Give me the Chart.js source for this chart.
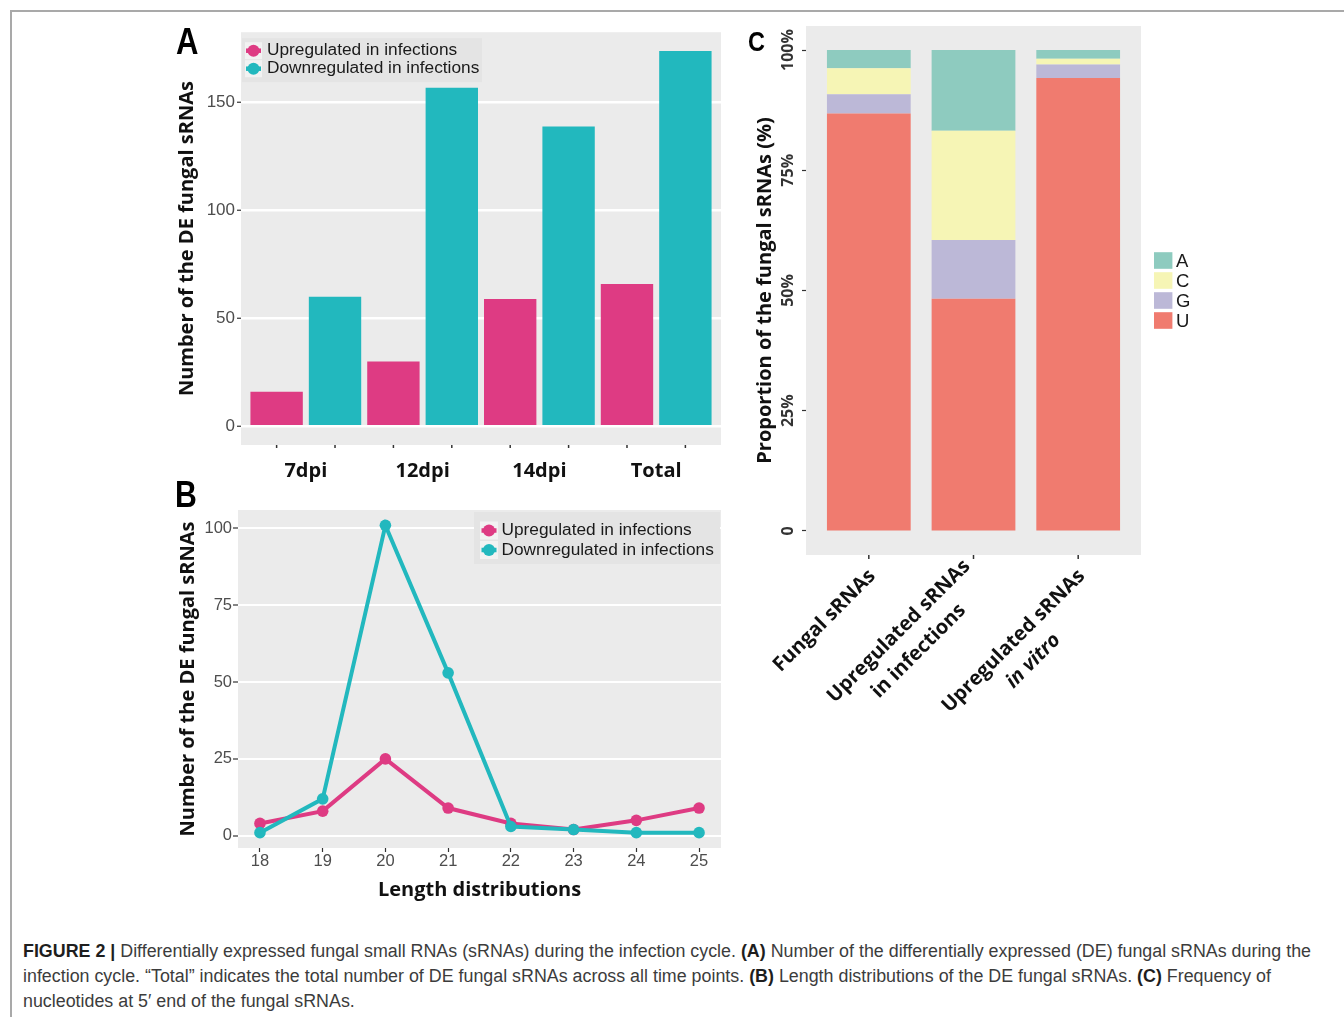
<!DOCTYPE html>
<html>
<head>
<meta charset="utf-8">
<title>Figure 2</title>
<script src="https://cdn.jsdelivr.net/npm/chart.js@4.4.1/dist/chart.umd.min.js"></script>
<style>
  body { margin: 0; background: #fff; }
  #page { position: relative; width: 1344px; height: 1017px; overflow: hidden; background: #fff; }
  .frame { position: absolute; background: #a9a9a9; }
  .panel { position: absolute; }
  .letter { position: absolute; font-family: "Liberation Sans", Arial, sans-serif; font-weight: bold; line-height: 1; color: #000; transform: scaleX(0.84); transform-origin: left top; }
  #caption { position: absolute; left: 23px; top: 939px; color: #3c3c3c; font-family: "Liberation Sans", sans-serif; font-size: 18px; line-height: 25px; white-space: nowrap; transform-origin: left top; }
  #caption b { color: #1e1e1e; }
</style>
</head>
<body>
<div id="page">
  <div class="frame" style="left:10px;top:10px;width:1334px;height:1.5px"></div>
  <div class="frame" style="left:10px;top:10px;width:1.5px;height:1007px"></div>

  <canvas id="chartA" class="panel" style="left:160px;top:20px" width="570" height="480"></canvas>
  <canvas id="chartB" class="panel" style="left:160px;top:490px" width="570" height="420"></canvas>
  <canvas id="chartC" class="panel" style="left:740px;top:10px" width="470" height="760"></canvas>

  <div class="letter" style="left:176px;top:23px;font-size:37px">A</div>
  <div class="letter" style="left:175px;top:477px;font-size:36px">B</div>
  <div class="letter" style="left:748px;top:28px;font-size:28px">C</div>

  <div id="caption">
    <span class="ln"><b>FIGURE 2 |</b> Differentially expressed fungal small RNAs (sRNAs) during the infection cycle. <b>(A)</b> Number of the differentially expressed (DE) fungal sRNAs during the</span><br>
    <span class="ln">infection cycle. “Total” indicates the total number of DE fungal sRNAs across all time points. <b>(B)</b> Length distributions of the DE fungal sRNAs. <b>(C)</b> Frequency of</span><br>
    <span class="ln">nucleotides at 5′ end of the fungal sRNAs.</span>
  </div>
</div>

<script>
// panel A: DE sRNAs per time point
const timePoints = ['7dpi', '12dpi', '14dpi', 'Total'];
const upCounts = [16, 30, 59, 66];
const downCounts = [60, 157, 139, 174];
const countTicks = [0, 50, 100, 150];

// panel B: length distributions
const lengths = [18, 19, 20, 21, 22, 23, 24, 25];
const upByLength = [4, 8, 25, 9, 4, 2, 5, 9];
const downByLength = [1, 12, 101, 53, 3, 2, 1, 1];
const lengthTicks = [0, 25, 50, 75, 100];

// panel C: 5' nucleotide shares (%), stacked bottom to top
const sampleGroups = ['Fungal sRNAs', ['Upregulated sRNAs', 'in infections'], ['Upregulated sRNAs', 'in vitro']];
const nucleotides = ['U', 'G', 'C', 'A'];
const pctU = [86.8, 48.3, 94.2];
const pctG = [4.0, 12.2, 2.8];
const pctC = [5.4, 22.7, 1.2];
const pctA = [3.8, 16.8, 1.8];
const pctTicks = [0, 25, 50, 75, 100];

const PINK = '#DE3B83';
const TEAL = '#22B8BE';
const NUC_COLORS = { U: '#F07B6F', G: '#BCB8D7', C: '#F6F5B5', A: '#8ECBBF' };
const PANEL = '#EBEBEB';
const SANS = '"Liberation Sans", Arial, sans-serif';
const BOLD = '"Open Sans", sans-serif';

Chart.defaults.font.family = SANS;

const panelBg = {
  id: 'panelBg',
  beforeDraw(chart, args, o) {
    const { ctx, chartArea: a } = chart;
    ctx.save();
    ctx.fillStyle = o.color;
    ctx.fillRect(a.left, a.top, a.right - a.left, a.bottom - a.top);
    ctx.restore();
  }
};

// small tick marks under every bar
const barTicks = {
  id: 'barTicks',
  afterDraw(chart, args, o) {
    const { ctx, chartArea: a } = chart;
    ctx.save();
    ctx.strokeStyle = o.color;
    ctx.lineWidth = o.width;
    chart.data.datasets.forEach((ds, i) => {
      if (o.firstOnly && i > 0) return;
      chart.getDatasetMeta(i).data.forEach(bar => {
        ctx.beginPath();
        ctx.moveTo(bar.x, a.bottom);
        ctx.lineTo(bar.x, a.bottom + o.length);
        ctx.stroke();
      });
    });
    ctx.restore();
  }
};

// ggplot-like legend sitting inside the panel
const insetLegend = {
  id: 'insetLegend',
  afterDraw(chart, args, o) {
    const { ctx, chartArea: a } = chart;
    const x = o.align === 'right' ? a.right - o.offsetX - o.width : a.left + o.offsetX;
    const y = a.top + o.offsetY;
    ctx.save();
    ctx.fillStyle = o.background;
    ctx.fillRect(x, y, o.width, o.height);
    ctx.font = o.font;
    ctx.textBaseline = 'middle';
    ctx.textAlign = 'left';
    chart.data.datasets.forEach((ds, row) => {
      const cy = y + o.firstRow + row * o.rowGap;
      const kx = x + o.keyLeft;
      const cx = kx + o.keySize / 2;
      ctx.fillStyle = o.keyBackground;
      ctx.fillRect(kx, cy - o.keySize / 2, o.keySize, o.keySize);
      ctx.strokeStyle = ds.backgroundColor;
      ctx.fillStyle = ds.backgroundColor;
      ctx.lineWidth = 4.5;
      ctx.beginPath();
      ctx.moveTo(cx - 7.5, cy);
      ctx.lineTo(cx + 7.5, cy);
      ctx.stroke();
      ctx.beginPath();
      ctx.arc(cx, cy, 6, 0, Math.PI * 2);
      ctx.fill();
      ctx.fillStyle = o.color;
      ctx.fillText(ds.label, x + o.textLeft, cy);
    });
    ctx.restore();
  }
};

// 45 degree category labels for panel C
const slantedLabels = {
  id: 'slantedLabels',
  afterDraw(chart, args, o) {
    const { ctx, chartArea: a, scales: { x } } = chart;
    ctx.save();
    ctx.fillStyle = o.color;
    ctx.textAlign = 'center';
    ctx.textBaseline = 'middle';
    o.labels.forEach((lab, i) => {
      const lines = [].concat(lab);
      const fonts = lines.map(t => (o.italic.includes(t) ? 'italic ' : '') + o.font);
      const widths = lines.map((t, k) => { ctx.font = fonts[k]; return ctx.measureText(t).width; });
      const w = Math.max(...widths);
      const shift = lines.some(t => o.italic.includes(t)) ? 0 : (lines.length - 1) / 2;
      ctx.save();
      ctx.translate(x.getPixelForValue(i + 1) + o.dx, a.bottom + o.dy);
      ctx.rotate(-Math.PI / 4);
      lines.forEach((t, k) => {
        ctx.font = fonts[k];
        ctx.fillText(t, -w / 2, (k - shift) * o.lineGap);
      });
      ctx.restore();
    });
    ctx.restore();
  }
};

const sideLegend = {
  id: 'sideLegend',
  afterDraw(chart, args, o) {
    const { ctx, chartArea: a } = chart;
    const items = chart.data.datasets.slice().reverse();
    const top = (a.top + a.bottom) / 2 - items.length * o.rowGap / 2;
    ctx.save();
    ctx.font = o.font;
    ctx.textBaseline = 'middle';
    ctx.textAlign = 'left';
    items.forEach((ds, r) => {
      const y = top + r * o.rowGap;
      ctx.fillStyle = ds.backgroundColor;
      ctx.fillRect(a.right + o.keyLeft, y + (o.rowGap - o.keyH) / 2, o.keyW, o.keyH);
      ctx.fillStyle = o.color;
      ctx.fillText(ds.label, a.right + o.textLeft, y + o.rowGap / 2 + 1);
    });
    ctx.restore();
  }
};

const axisTitleFont = { family: BOLD, size: 20, weight: 'bold' };
const tickMarks = { tickColor: '#333', tickWidth: 1.2 };

// A
new Chart(document.getElementById('chartA'), {
  type: 'bar',
  data: {
    datasets: [
      { label: 'Upregulated in infections', data: upCounts.map((v, i) => ({ x: i + 1, y: v })), backgroundColor: PINK },
      { label: 'Downregulated in infections', data: downCounts.map((v, i) => ({ x: i + 1, y: v })), backgroundColor: TEAL }
    ]
  },
  options: {
    responsive: false,
    animation: false,
    layout: { padding: { top: 12, right: 9, left: 0, bottom: 0 } },
    datasets: { bar: { categoryPercentage: 1, barPercentage: 0.897 } },
    scales: {
      x: {
        type: 'linear', offset: false, min: 0.445, max: 4.555,
        afterBuildTicks: s => { s.ticks = timePoints.map((_, i) => ({ value: i + 1 })); },
        afterFit: s => { s.height = 55; },
        grid: { display: false, drawTicks: false },
        border: { display: false },
        ticks: { callback: v => timePoints[v - 1], padding: 14, color: '#111', font: axisTitleFont, maxRotation: 0, autoSkip: false }
      },
      y: {
        min: -8.7, max: 182.7,
        afterBuildTicks: s => { s.ticks = countTicks.map(v => ({ value: v })); },
        afterFit: s => { s.width = 81; },
        grid: { color: '#fff', lineWidth: 2.5, tickLength: 4, ...tickMarks },
        border: { display: false },
        ticks: { color: '#4D4D4D', padding: 2, font: { size: 17 } },
        title: { display: true, text: 'Number of the DE fungal sRNAs', color: '#111', font: axisTitleFont, padding: { top: 15 } }
      }
    },
    plugins: {
      legend: { display: false },
      tooltip: { enabled: false },
      panelBg: { color: PANEL },
      barTicks: { color: '#333', width: 1.5, length: 3 },
      insetLegend: {
        align: 'left', offsetX: 1, offsetY: 6, width: 240, height: 44,
        firstRow: 12.5, rowGap: 18, keyLeft: 3, keySize: 17, textLeft: 25,
        background: '#E4E4E4', keyBackground: '#F2F2F2', color: '#1a1a1a', font: '17.3px "Liberation Sans"'
      }
    }
  },
  plugins: [panelBg, barTicks, insetLegend]
});

// B
new Chart(document.getElementById('chartB'), {
  type: 'line',
  data: {
    datasets: [
      { label: 'Upregulated in infections', data: lengths.map((x, i) => ({ x, y: upByLength[i] })), borderColor: PINK, backgroundColor: PINK, order: 1 },
      { label: 'Downregulated in infections', data: lengths.map((x, i) => ({ x, y: downByLength[i] })), borderColor: TEAL, backgroundColor: TEAL, order: 0 }
    ]
  },
  options: {
    responsive: false,
    animation: false,
    layout: { padding: { top: 20, right: 9, left: 0, bottom: 0 } },
    elements: { line: { borderWidth: 4, tension: 0 }, point: { radius: 5.8, borderWidth: 0 } },
    scales: {
      x: {
        type: 'linear', min: 17.65, max: 25.35,
        afterBuildTicks: s => { s.ticks = lengths.map(v => ({ value: v })); },
        afterFit: s => { s.height = 62; },
        grid: { drawOnChartArea: false, tickLength: 4, ...tickMarks },
        border: { display: false },
        ticks: { color: '#4D4D4D', padding: 0, font: { size: 16.5 }, maxRotation: 0 },
        title: { display: true, text: 'Length distributions', color: '#111', font: axisTitleFont, padding: { bottom: 8 } }
      },
      y: {
        min: -4, max: 106,
        afterBuildTicks: s => { s.ticks = lengthTicks.map(v => ({ value: v })); },
        afterFit: s => { s.width = 78; },
        grid: { color: '#fff', lineWidth: 2, tickLength: 5, ...tickMarks },
        border: { display: false },
        ticks: { color: '#4D4D4D', padding: 1, font: { size: 16.5 } },
        title: { display: true, text: 'Number of the DE fungal sRNAs', color: '#111', font: axisTitleFont, padding: { top: 16 } }
      }
    },
    plugins: {
      legend: { display: false },
      tooltip: { enabled: false },
      panelBg: { color: PANEL },
      insetLegend: {
        align: 'right', offsetX: 1, offsetY: 2, width: 246, height: 52,
        firstRow: 18.5, rowGap: 19.5, keyLeft: 6, keySize: 18, textLeft: 27.5,
        background: '#E4E4E4', keyBackground: '#F2F2F2', color: '#1a1a1a', font: '17.3px "Liberation Sans"'
      }
    }
  },
  plugins: [panelBg, insetLegend]
});

// C
const nucleotideShares = [pctU, pctG, pctC, pctA];
new Chart(document.getElementById('chartC'), {
  type: 'bar',
  data: {
    datasets: nucleotides.map((n, k) => ({
      label: n,
      data: nucleotideShares[k].map((v, i) => ({ x: i + 1, y: v })),
      backgroundColor: NUC_COLORS[n]
    }))
  },
  options: {
    responsive: false,
    animation: false,
    layout: { padding: { top: 16, right: 69, left: 0, bottom: 0 } },
    datasets: { bar: { categoryPercentage: 1, barPercentage: 0.8 } },
    scales: {
      x: {
        type: 'linear', offset: false, stacked: true, min: 0.4, max: 3.6,
        afterBuildTicks: s => { s.ticks = sampleGroups.map((_, i) => ({ value: i + 1 })); },
        afterFit: s => { s.height = 215; },
        grid: { display: false, drawTicks: false },
        border: { display: false },
        ticks: { display: false }
      },
      y: {
        stacked: true, min: -5, max: 105,
        afterBuildTicks: s => { s.ticks = pctTicks.map(v => ({ value: v })); },
        afterFit: s => { s.width = 66; },
        grid: { drawOnChartArea: false, tickLength: 4, ...tickMarks },
        border: { display: false },
        ticks: {
          callback: v => (v === 0 ? '0' : v + '%'),
          color: '#333', font: { family: BOLD, size: 16, weight: 'bold' },
          minRotation: 90, maxRotation: 90, crossAlign: 'center', padding: -7
        },
        title: { display: true, text: 'Proportion of the fungal sRNAs (%)', color: '#111', font: axisTitleFont, padding: { top: 13 } }
      }
    },
    plugins: {
      legend: { display: false },
      tooltip: { enabled: false },
      panelBg: { color: PANEL },
      barTicks: { color: '#333', width: 1.5, length: 4, firstOnly: true },
      slantedLabels: {
        labels: sampleGroups, italic: ['in vitro'], dx: 3.5, dy: 18, lineGap: 28,
        color: '#111', font: 'bold 20px "Open Sans"'
      },
      sideLegend: {
        rowGap: 20, keyLeft: 13, keyW: 18.4, keyH: 16.6, textLeft: 35,
        color: '#1a1a1a', font: '18.5px "Liberation Sans"'
      }
    }
  },
  plugins: [panelBg, barTicks, slantedLabels, sideLegend]
});

// squeeze the caption to the figure width (narrow caption face)
const firstLine = document.querySelector('#caption .ln');
const cap = document.getElementById('caption');
cap.style.transform = 'scaleX(' + (1288 / firstLine.getBoundingClientRect().width) + ')';
</script>
</body>
</html>
